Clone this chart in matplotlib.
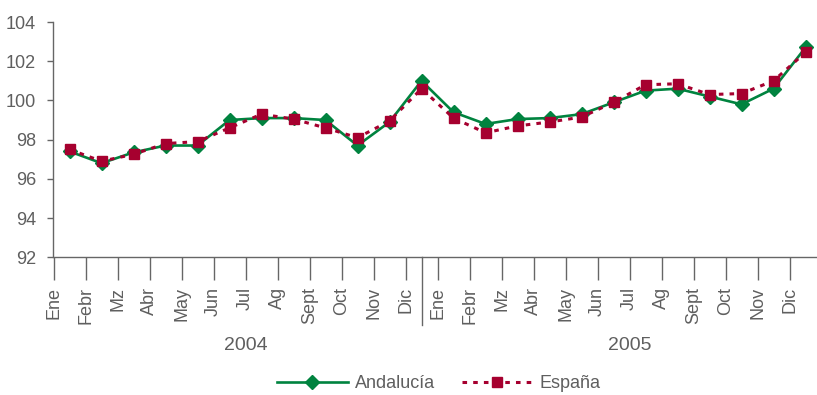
import matplotlib
matplotlib.use("Agg")
import matplotlib.pyplot as plt
import matplotlib.transforms as mtransforms
from matplotlib import font_manager

months = ["Ene", "Febr", "Mz", "Abr", "May", "Jun", "Jul", "Ag", "Sept", "Oct", "Nov", "Dic"]
years = ["2004", "2005"]
tick_labels = months + months

andalucia = [97.4, 96.8, 97.35, 97.7, 97.7, 99.0, 99.1, 99.1, 99.0, 97.7, 98.9, 101.0,
             99.4, 98.8, 99.05, 99.1, 99.3, 99.9, 100.5, 100.6, 100.2, 99.8, 100.6, 102.7]
espana = [97.5, 96.9, 97.25, 97.8, 97.9, 98.6, 99.3, 99.05, 98.6, 98.1, 98.95, 100.6,
          99.1, 98.35, 98.7, 98.9, 99.15, 99.9, 100.8, 100.85, 100.3, 100.35, 101.0, 102.45]
yticks = [92, 94, 96, 98, 100, 102, 104]

names = {f.name for f in font_manager.fontManager.ttflist}
fam = "Liberation Sans" if "Liberation Sans" in names else "DejaVu Sans"
plt.rcParams["font.family"] = [fam, "DejaVu Sans"]
TXT = "#5f5f5f"
AX = "#666666"
GREEN = "#00833F"
RED = "#A6002F"
FS = 13

fig = plt.figure(figsize=(8.17, 3.95), dpi=100)
ax = fig.add_axes([53.5 / 817, (395 - 257.3) / 395, 1 - 53.5 / 817, (257.3 - 22) / 395])

x = list(range(len(andalucia)))
ax.plot(x, andalucia, color=GREEN, lw=1.9, marker="D", ms=7.5, mec=GREEN, mfc=GREEN,
        label="Andalucía", zorder=3)
ax.plot(x, espana, color=RED, lw=2.2, dashes=(1.5, 2.0), marker="s", ms=6.7, mec=RED, mfc=RED,
        label="España", zorder=4)

ax.set_ylim(92, 104)
ax.set_xlim(-0.5, (817 - 69.5) / 32)
ax.set_yticks(yticks)
ax.set_yticklabels([str(v) for v in yticks], fontsize=FS, color=TXT)
ax.set_xticks([i - 0.5 for i in x])
ax.set_xticklabels(tick_labels, rotation=90, fontsize=FS, color=TXT, va="top")

for s in ["top", "right"]:
    ax.spines[s].set_visible(False)
for s in ["left", "bottom"]:
    ax.spines[s].set_color(AX)
    ax.spines[s].set_linewidth(1.0)
ax.tick_params(axis="x", length=16.5, width=1.0, color=AX, pad=5)
ax.tick_params(axis="y", length=4.5, width=1.0, color=AX, pad=8)

trans = mtransforms.blended_transform_factory(ax.transData, ax.transAxes)
ax.plot([11, 11], [0, -(325 - 257.3) / 235.3], transform=trans, color=AX, lw=1.0, clip_on=False)

for k, yr in enumerate(years):
    ax.text(5.5 + 12 * k, -(346 - 257.3) / 235.3, yr, transform=trans, ha="center", va="center",
            fontsize=FS + 1, color=TXT)

leg = fig.legend(loc="center", bbox_to_anchor=(439 / 817, (395 - 384) / 395), ncol=2, frameon=False,
                 fontsize=FS, handlelength=3.9, handletextpad=0.4, columnspacing=1.5,
                 borderaxespad=0, borderpad=0)
for t in leg.get_texts():
    t.set_color(TXT)

fig.savefig("out.png", dpi=100, facecolor="white")
